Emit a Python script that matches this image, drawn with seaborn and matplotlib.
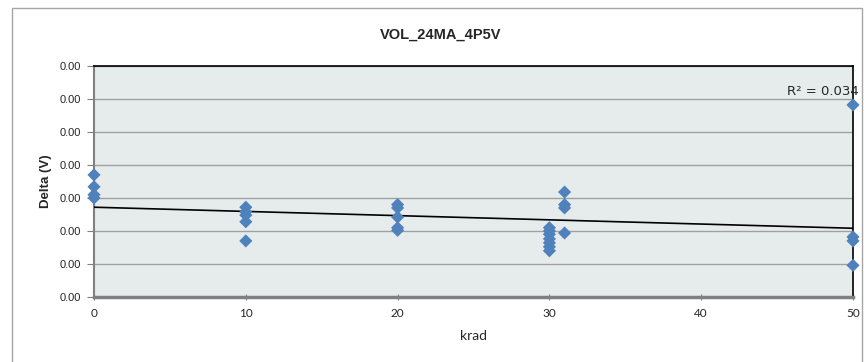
import matplotlib
matplotlib.use("Agg")
import matplotlib.pyplot as plt
import matplotlib.patches as patches
import numpy as np
import pandas as pd
import seaborn as sns

krad = [0, 0, 0, 0,
        10, 10, 10, 10, 10,
        20, 20, 20, 20, 20,
        30, 30, 30, 30, 30, 30, 30,
        31, 31, 31, 31,
        50, 50, 50, 50]
delta_v = [0.00185, 0.00167, 0.00155, 0.00150,
           0.00136, 0.00129, 0.00124, 0.00114, 0.00085,
           0.00140, 0.00135, 0.00121, 0.00105, 0.00101,
           0.00105, 0.00100, 0.00095, 0.00088, 0.00082, 0.00076, 0.00070,
           0.00159, 0.00140, 0.00135, 0.00097,
           0.00291, 0.00091, 0.00085, 0.00048]
x_ticks = [0, 10, 20, 30, 40, 50]
y_ticks = [0.0, 0.0005, 0.0010, 0.0015, 0.0020, 0.0025, 0.0030, 0.0035]
r2_label = "R² = 0.034"
title = "VOL_24MA_4P5V"

df = pd.DataFrame({"krad": krad, "delta": delta_v})

sns.set_style("white")
plt.rcParams["font.family"] = ["Liberation Sans", "DejaVu Sans"]

fig = plt.figure(figsize=(8.64, 3.62), dpi=100)
ax = fig.add_axes([94 / 864, 1 - 297 / 362, (853 - 94) / 864, (297 - 66) / 362])
ax.set_facecolor("#E6ECEC")

# outer chart border (bottom edge runs off the image like the reference)
fig.patches.append(patches.Rectangle((12 / 864, -0.02), (862 - 12) / 864, 1 - 8 / 362 + 0.02,
                                     transform=fig.transFigure, fill=False,
                                     edgecolor="#A6A6A6", linewidth=1.0))

sns.regplot(data=df, x="krad", y="delta", ax=ax, scatter=False, ci=None, truncate=True,
            line_kws={"color": "black", "linewidth": 1.2, "zorder": 3})
sns.scatterplot(data=df, x="krad", y="delta", ax=ax, marker="D", s=45,
                color="#4F81BD", edgecolor="none", zorder=4, clip_on=False)

ax.set_xlim(0, 50)
ax.set_ylim(0, 0.0035)
ax.set_xticks(x_ticks)
ax.set_yticks(y_ticks)
ax.set_yticklabels([f"{v:.2f}" for v in y_ticks], fontsize=8)
ax.set_xticklabels([str(v) for v in x_ticks], fontsize=8.5, family=["Lato", "DejaVu Sans"])
ax.grid(axis="y", color="#A0A0A0", linewidth=1.0, zorder=0)
ax.set_axisbelow(True)

ax.spines["left"].set_color("#808080")
ax.spines["left"].set_linewidth(1.5)
ax.spines["bottom"].set_color("#808080")
ax.spines["bottom"].set_linewidth(2.5)
ax.spines["top"].set_color("black")
ax.spines["top"].set_linewidth(1.2)
ax.spines["right"].set_color("black")
ax.spines["right"].set_linewidth(1.2)
ax.tick_params(axis="y", which="both", left=True, length=5, color="#808080", pad=4)
ax.tick_params(axis="x", which="both", bottom=True, length=4, color="#808080",
               direction="inout", pad=6)

ax.set_xlabel("krad", fontsize=10, family=["Lato", "DejaVu Sans"], labelpad=8)
ax.set_ylabel("Delta (V)", fontsize=9.5, fontweight="bold", labelpad=6)

ax.text(50.35, 0.00302, r2_label, ha="right", va="bottom", fontsize=9.5,
        family=["DejaVu Sans"], zorder=5)

fig.text(0.51, 1 - 35 / 362, title, ha="center", va="center",
         fontsize=10.5, fontweight="bold")

plt.savefig("out.png", dpi=100)
plt.close()
